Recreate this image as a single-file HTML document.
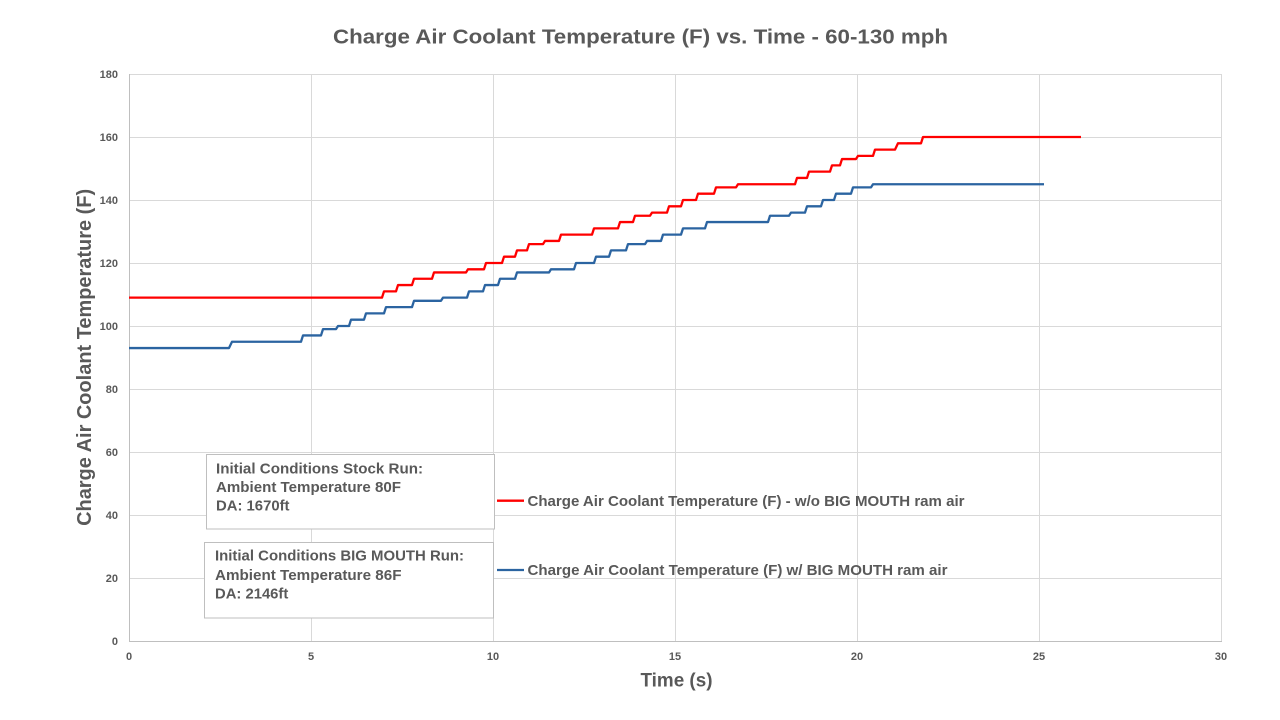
<!DOCTYPE html>
<html>
<head>
<meta charset="utf-8">
<style>
  html, body { margin:0; padding:0; background:#ffffff; }
  svg { display:block; }
  text { font-family: "Liberation Sans", Arial, sans-serif; font-weight: bold; fill:#595959; }
</style>
</head>
<body>
<svg width="1280" height="720" viewBox="0 0 1280 720" xmlns="http://www.w3.org/2000/svg">
  <rect x="0" y="0" width="1280" height="720" fill="#ffffff"/>

  <!-- Title -->
  <text x="640.5" y="43.3" font-size="20" text-anchor="middle" textLength="615" lengthAdjust="spacingAndGlyphs">Charge Air Coolant Temperature (F) vs. Time - 60-130 mph</text>

  <!-- Gridlines -->
  <g stroke="#d9d9d9" stroke-width="1" fill="none">
    <line x1="129" y1="74.5" x2="1221" y2="74.5"/>
    <line x1="129" y1="137.5" x2="1221" y2="137.5"/>
    <line x1="129" y1="200.5" x2="1221" y2="200.5"/>
    <line x1="129" y1="263.5" x2="1221" y2="263.5"/>
    <line x1="129" y1="326.5" x2="1221" y2="326.5"/>
    <line x1="129" y1="389.5" x2="1221" y2="389.5"/>
    <line x1="129" y1="452.5" x2="1221" y2="452.5"/>
    <line x1="129" y1="515.5" x2="1221" y2="515.5"/>
    <line x1="129" y1="578.5" x2="1221" y2="578.5"/>
    <line x1="311.5" y1="74" x2="311.5" y2="641"/>
    <line x1="493.5" y1="74" x2="493.5" y2="641"/>
    <line x1="675.5" y1="74" x2="675.5" y2="641"/>
    <line x1="857.5" y1="74" x2="857.5" y2="641"/>
    <line x1="1039.5" y1="74" x2="1039.5" y2="641"/>
    <line x1="1221.5" y1="74" x2="1221.5" y2="641"/>
  </g>
  <!-- Axes -->
  <g stroke="#bfbfbf" stroke-width="1">
    <line x1="129.5" y1="74" x2="129.5" y2="641"/>
    <line x1="129" y1="641.5" x2="1222" y2="641.5"/>
  </g>

  <!-- Y tick labels -->
  <g font-size="11" text-anchor="end">
    <text x="118" y="78">180</text>
    <text x="118" y="141">160</text>
    <text x="118" y="204">140</text>
    <text x="118" y="267">120</text>
    <text x="118" y="330">100</text>
    <text x="118" y="393">80</text>
    <text x="118" y="456">60</text>
    <text x="118" y="519">40</text>
    <text x="118" y="582">20</text>
    <text x="118" y="645">0</text>
  </g>
  <!-- X tick labels -->
  <g font-size="11" text-anchor="middle">
    <text x="129" y="660">0</text>
    <text x="311" y="660">5</text>
    <text x="493" y="660">10</text>
    <text x="675" y="660">15</text>
    <text x="857" y="660">20</text>
    <text x="1039" y="660">25</text>
    <text x="1221" y="660">30</text>
  </g>

  <!-- Axis titles -->
  <text x="676.5" y="686.7" font-size="19" text-anchor="middle" textLength="72" lengthAdjust="spacingAndGlyphs">Time (s)</text>
  <text transform="translate(91,357.4) rotate(-90)" x="0" y="0" font-size="20" text-anchor="middle" textLength="337" lengthAdjust="spacingAndGlyphs">Charge Air Coolant Temperature (F)</text>

  <!-- Series -->
  <path fill="none" stroke="#ff0000" stroke-width="2.3" stroke-linejoin="round"
    d="M129 297.65 H382 L384 291.35 H396 L398 285.05 H412 L414 278.75 H432 L434 272.45 H466 L468 269.3 H484 L486 263 H502 L504 256.7 H515 L517 250.4 H527 L529 244.1 H543 L545 240.95 H559 L561 234.65 H592 L594 228.35 H618 L620 222.05 H633 L635 215.75 H650 L652 212.6 H667 L669 206.3 H681 L683 200 H696 L698 193.7 H714 L716 187.4 H736 L738 184.25 H795 L797 177.95 H807 L809 171.65 H830 L832 165.35 H840 L842 159.05 H856 L858 155.9 H873 L875 149.6 H895 L898 143.3 H921 L923 137 H1081"/>
  <path fill="none" stroke="#2b64a1" stroke-width="2.3" stroke-linejoin="round"
    d="M129 348.05 H229 L232 341.75 H301 L303 335.45 H321 L323 329.15 H336 L338 326 H349 L351 319.7 H364 L366 313.4 H384 L386 307.1 H412 L414 300.8 H441 L443 297.65 H467 L469 291.35 H483 L485 285.05 H498 L500 278.75 H515 L517 272.45 H549 L551 269.3 H574 L576 263 H594 L596 256.7 H609 L611 250.4 H626 L628 244.1 H645 L647 240.95 H661 L663 234.65 H681 L683 228.35 H705 L707 222.05 H768 L770 215.75 H789 L791 212.6 H805 L807 206.3 H821 L823 200 H834 L836 193.7 H851 L853 187.4 H871 L873 184.25 H1044"/>

  <!-- Annotation boxes -->
  <rect x="206.5" y="454.5" width="288" height="74.5" fill="#ffffff" stroke="#bfbfbf" stroke-width="1"/>
  <text x="216" y="473.3" font-size="15" textLength="207" lengthAdjust="spacingAndGlyphs">Initial Conditions Stock Run:</text>
  <text x="216" y="492" font-size="15" textLength="185" lengthAdjust="spacingAndGlyphs">Ambient Temperature 80F</text>
  <text x="216" y="510.7" font-size="15" textLength="73.5" lengthAdjust="spacingAndGlyphs">DA: 1670ft</text>

  <rect x="204.5" y="542.5" width="289" height="75.5" fill="#ffffff" stroke="#bfbfbf" stroke-width="1"/>
  <text x="215" y="560.7" font-size="15" textLength="249" lengthAdjust="spacingAndGlyphs">Initial Conditions BIG MOUTH Run:</text>
  <text x="215" y="580" font-size="15" textLength="186.5" lengthAdjust="spacingAndGlyphs">Ambient Temperature 86F</text>
  <text x="215" y="598.7" font-size="15" textLength="73.3" lengthAdjust="spacingAndGlyphs">DA: 2146ft</text>

  <!-- Legend -->
  <line x1="497" y1="500.7" x2="524" y2="500.7" stroke="#ff0000" stroke-width="2.3"/>
  <text x="527.5" y="506" font-size="15" textLength="437" lengthAdjust="spacingAndGlyphs">Charge Air Coolant Temperature (F) - w/o BIG MOUTH ram air</text>
  <line x1="497" y1="570" x2="524" y2="570" stroke="#2b64a1" stroke-width="2.3"/>
  <text x="527.5" y="575" font-size="15" textLength="420" lengthAdjust="spacingAndGlyphs">Charge Air Coolant Temperature (F) w/ BIG MOUTH ram air</text>
</svg>
</body>
</html>
